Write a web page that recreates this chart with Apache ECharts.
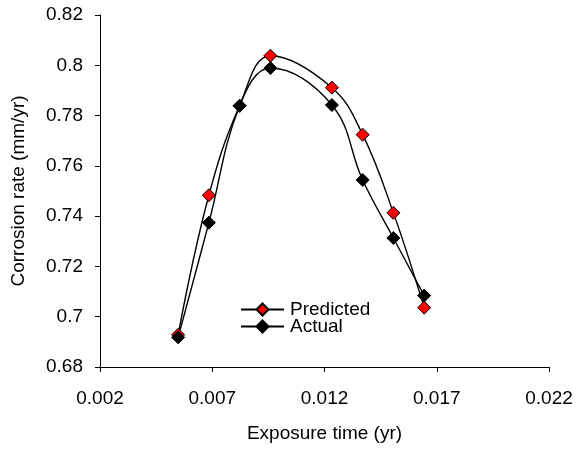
<!DOCTYPE html>
<html>
<head>
<meta charset="utf-8">
<script src="https://cdn.jsdelivr.net/npm/echarts@6/dist/echarts.min.js"></script>
<style>
  html, body { margin: 0; padding: 0; background: #ffffff; }
  #chart { width: 576px; height: 451px; }
</style>
</head>
<body>
<div id="chart"></div>
<script>
// Exposure times (yr) and corrosion rates (mm/yr)
var exposureTime = [0.00548, 0.00685, 0.00822, 0.00959, 0.01233, 0.0137, 0.01507, 0.01644];
var predictedRate = [0.6928, 0.7483, 0.7839, 0.8038, 0.7911, 0.7724, 0.7413, 0.7036];
var actualRate = [0.6918, 0.7374, 0.7839, 0.7989, 0.7842, 0.7544, 0.7313, 0.7084];
var seriesNames = ['Predicted', 'Actual'];

function pairs(xs, ys) {
  return xs.map(function (x, i) { return [x, ys[i]]; });
}

var FONT = "'Liberation Sans', Arial, sans-serif";
var chart = echarts.init(document.getElementById('chart'), null, { renderer: 'canvas' });

chart.setOption({
  backgroundColor: '#ffffff',
  animation: false,
  grid: { left: 100, right: 27, top: 15, bottom: 84, containLabel: false, outerBoundsMode: 'none' },
  legend: {
    data: seriesNames,
    orient: 'vertical',
    left: 240,
    top: 300,
    padding: 0,
    itemGap: -2,
    itemWidth: 43,
    itemHeight: 15,
    textStyle: { fontFamily: FONT, fontSize: 19, color: '#000', padding: [0, 0, 0, 1], lineHeight: 15 }
  },
  xAxis: {
    type: 'value',
    min: 0.002,
    max: 0.022,
    interval: 0.005,
    name: 'Exposure time (yr)',
    nameLocation: 'middle',
    nameGap: 57,
    nameTextStyle: { fontFamily: FONT, fontSize: 19, color: '#000' },
    axisLine: { show: true, onZero: false, lineStyle: { color: '#000', width: 1 } },
    axisTick: { show: true, length: 5, lineStyle: { color: '#000' } },
    axisLabel: {
      margin: 22, fontFamily: FONT, fontSize: 19, color: '#000',
      formatter: function (v) { return String(+v.toFixed(3)); }
    },
    splitLine: { show: false }
  },
  yAxis: {
    type: 'value',
    min: 0.68,
    max: 0.82,
    interval: 0.02,
    name: 'Corrosion rate (mm/yr)',
    nameLocation: 'middle',
    nameRotate: 90,
    nameGap: 72,
    nameTextStyle: { fontFamily: FONT, fontSize: 19, color: '#000' },
    axisLine: { show: true, onZero: false, lineStyle: { color: '#000', width: 1 } },
    axisTick: { show: true, length: 5, lineStyle: { color: '#000' } },
    axisLabel: {
      margin: 17, fontFamily: FONT, fontSize: 19, color: '#000',
      formatter: function (v) { return String(+v.toFixed(2)); }
    },
    splitLine: { show: false }
  },
  series: [
    {
      name: seriesNames[0],
      type: 'line',
      data: pairs(exposureTime, predictedRate),
      smooth: 0.4,
      symbol: 'diamond',
      symbolSize: 13,
      lineStyle: { color: '#000', width: 1.4 },
      itemStyle: { color: '#ff0000', borderColor: '#000', borderWidth: 1 }
    },
    {
      name: seriesNames[1],
      type: 'line',
      data: pairs(exposureTime, actualRate),
      smooth: 0.4,
      symbol: 'diamond',
      symbolSize: 13,
      lineStyle: { color: '#000', width: 1.4 },
      itemStyle: { color: '#000', borderColor: '#000', borderWidth: 1 }
    }
  ]
});
</script>
</body>
</html>
